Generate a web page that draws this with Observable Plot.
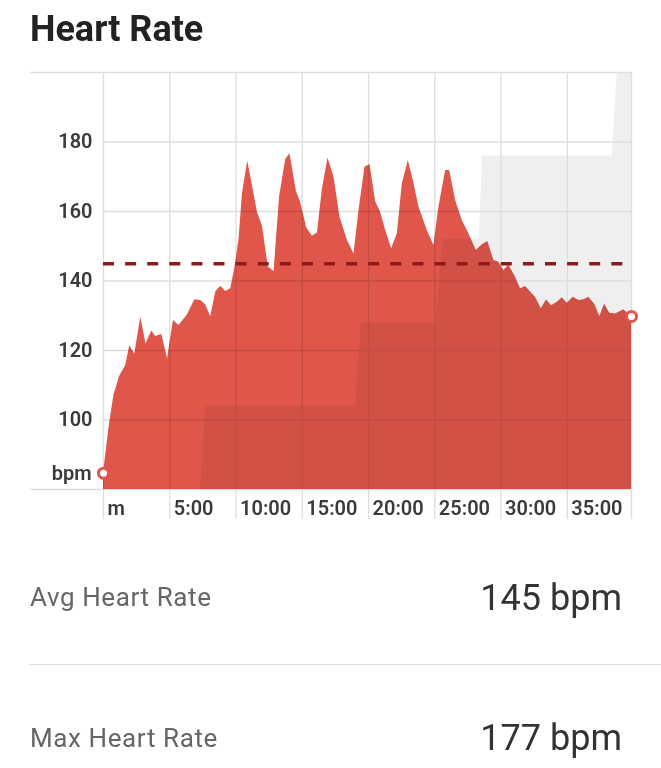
<!DOCTYPE html>
<html>
<head>
<meta charset="utf-8">
<script src="https://cdn.jsdelivr.net/npm/d3@7"></script>
<script src="https://cdn.jsdelivr.net/npm/@observablehq/plot@0.6"></script>
<style>
  html, body { margin: 0; padding: 0; background: #fff; }
  body { width: 661px; height: 768px; position: relative; overflow: hidden; font-family: Roboto, "Noto Sans", sans-serif; }
  .title { position: absolute; left: 30px; top: 11px; font-size: 36px; line-height: 36px; font-weight: 700; color: #222; }
  #chart { position: absolute; left: 0; top: 60px; }
  .lbl { position: absolute; left: 30px; font-size: 26px; line-height: 26px; color: #666; letter-spacing: 0.6px; }
  .val { position: absolute; right: 39px; font-size: 36px; line-height: 36px; color: #333; }
  .divider { position: absolute; left: 29px; right: 0; top: 664px; height: 0; border-top: 1.5px solid #dcdcdc; }
</style>
</head>
<body>
<div class="title">Heart Rate</div>
<div id="chart"></div>
<div class="lbl" style="top:584px">Avg Heart Rate</div>
<div class="val" style="top:580px">145 bpm</div>
<div class="divider"></div>
<div class="lbl" style="top:725px">Max Heart Rate</div>
<div class="val" style="top:720px">177 bpm</div>
<script>
// Heart-rate samples (minutes, bpm)
const timeMin = [0, 0.42, 0.8, 0.93, 1.18, 1.68, 1.98, 2.36, 2.81, 3.21, 3.64, 3.94, 4.40, 4.83, 5.28, 5.70, 6.33, 6.89, 7.34, 7.71, 8.09, 8.47, 8.85, 9.22, 9.60, 9.90, 10.23, 10.48, 10.88, 11.31, 11.61, 11.99, 12.44, 12.87, 13.28, 13.75, 14.07, 14.55, 14.88, 15.33, 15.76, 16.14, 16.52, 16.94, 17.39, 17.84, 18.40, 18.90, 19.28, 19.73, 20.11, 20.54, 20.91, 21.29, 21.74, 22.17, 22.55, 23.00, 23.38, 23.80, 24.43, 24.93, 25.31, 25.82, 26.12, 26.57, 27.07, 27.57, 28.13, 28.58, 29.00, 29.46, 29.83, 30.21, 30.59, 31.09, 31.47, 31.85, 32.22, 32.60, 33.03, 33.43, 33.81, 34.24, 34.61, 34.99, 35.44, 35.87, 36.25, 36.62, 37.05, 37.45, 37.81, 38.20, 38.63, 39.26, 39.84];
const heartRate = [84.7, 97.9, 107.5, 108.8, 112.3, 115.7, 121.4, 119.0, 129.6, 121.9, 125.6, 124.0, 124.6, 117.6, 128.6, 127.2, 130.2, 134.6, 134.4, 133.2, 129.7, 136.8, 138.5, 137.0, 137.8, 143.5, 152.0, 165.0, 174.5, 166.0, 159.8, 155.8, 144.0, 142.7, 164.0, 175.0, 176.6, 165.8, 162.5, 155.3, 152.9, 153.8, 166.5, 175.4, 169.9, 158.4, 151.7, 147.8, 160.3, 172.7, 173.5, 162.7, 159.8, 154.5, 149.3, 153.6, 168.0, 174.7, 168.9, 161.3, 154.5, 150.2, 161.3, 171.8, 171.8, 163.2, 157.4, 153.6, 148.8, 150.4, 151.4, 145.9, 145.4, 143.0, 144.5, 141.1, 137.8, 138.4, 136.8, 135.3, 132.0, 134.6, 132.9, 133.9, 135.2, 133.6, 135.3, 134.4, 134.6, 135.3, 133.4, 129.8, 133.4, 130.7, 130.5, 131.7, 129.8];

// Background stepped profile (minutes, level on the bpm scale)
const profileTime = [7.33, 7.71, 19.03, 19.45, 25.1, 25.6, 28.35, 28.6, 38.39, 38.76, 39.84];
const profileLevel = [80, 104, 104, 128, 128, 152, 152, 176, 176, 200, 200];

const yDomain = [80, 200];
const yTicks = [100, 120, 140, 160, 180];
const yGrid = [80, 100, 120, 140, 160, 180, 200];
const xTicks = [0, 5, 10, 15, 20, 25, 30, 35];
const xTickLabels = ["m", "5:00", "10:00", "15:00", "20:00", "25:00", "30:00", "35:00"];
const avgHR = 145;
const unitLabel = "bpm";

const hr = timeMin.map((t, i) => ({t, v: heartRate[i]}));
const profile = profileTime.map((t, i) => ({t, v: profileLevel[i]}));
const tEnd = timeMin[timeMin.length - 1];
const xGrid = [...xTicks, tEnd];

const red = "#e0564b";
const grid = "#dedede";

const chart = Plot.plot({
  width: 661,
  height: 480,
  marginTop: 12,
  marginLeft: 103,
  marginRight: 30,
  marginBottom: 51,
  x: {domain: [0, tEnd], label: null},
  y: {domain: yDomain, label: null},
  style: {fontFamily: "Roboto, sans-serif", fontSize: "20px", fontWeight: 600, color: "#3a3a3a", background: "transparent", overflow: "visible"},
  marks: [
    Plot.areaY(profile, {x: "t", y1: yDomain[0], y2: "v", fill: "#efefef"}),
    Plot.ruleY(yGrid, {stroke: grid, strokeWidth: 1.3}),
    Plot.ruleX(xGrid, {y1: yDomain[0], y2: yDomain[1], stroke: grid, strokeWidth: 1.3}),
    Plot.axisX(xGrid, {tickSize: 30, tickFormat: () => "", stroke: grid, strokeWidth: 1.3, label: null}),
    Plot.axisY([yDomain[0], yDomain[1]], {tickSize: 73, tickFormat: () => "", stroke: grid, strokeWidth: 1.3, label: null}),
    Plot.areaY(hr, {x: "t", y1: yDomain[0], y2: "v", fill: red, mixBlendMode: "multiply"}),
    Plot.ruleY([avgHR], {stroke: "#8e1b1b", strokeWidth: 3.5, strokeDasharray: "11,11.1"}),
    Plot.axisY(yTicks, {tickSize: 0, tickPadding: 11, label: null}),
    Plot.axisX(xTicks, {tickSize: 0, tickPadding: 11, textAnchor: "start", dx: 4, label: null,
      tickFormat: d => xTickLabels[xTicks.indexOf(d)]}),
    Plot.dot(hr, Plot.selectFirst({x: "t", y: "v", r: 5, fill: "white", stroke: red, strokeWidth: 3})),
    Plot.dot(hr, Plot.selectLast({x: "t", y: "v", r: 5, fill: "white", stroke: red, strokeWidth: 3})),
    Plot.text(hr, Plot.selectFirst({x: "t", y: "v", text: () => unitLabel, textAnchor: "end", dx: -12, fill: "#3a3a3a"}))
  ]
});
document.getElementById("chart").appendChild(chart);
</script>
</body>
</html>
